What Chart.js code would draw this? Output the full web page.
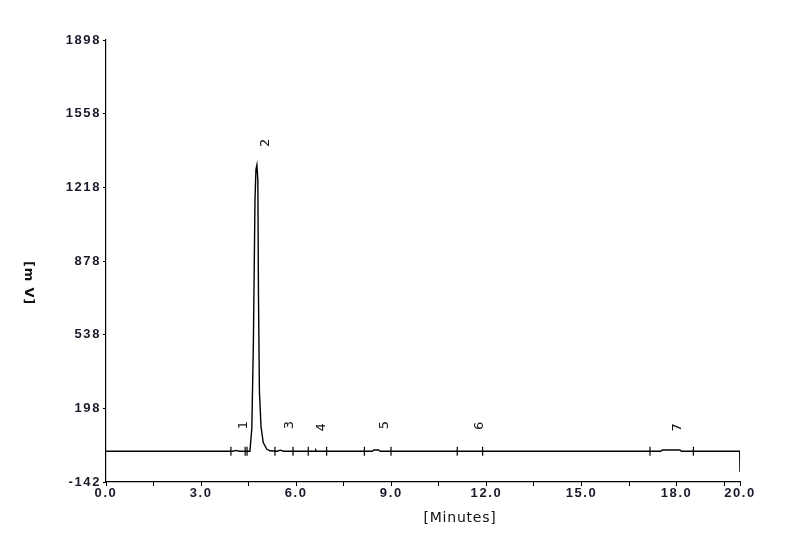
<!DOCTYPE html>
<html>
<head>
<meta charset="utf-8">
<script src="https://cdn.jsdelivr.net/npm/chart.js@4.4.1/dist/chart.umd.min.js"></script>
<style>
  html, body { margin: 0; padding: 0; background: #fff; }
  #wrap { width: 800px; height: 541px; }
</style>
</head>
<body>
<div id="wrap"><canvas id="chart"></canvas></div>
<script>
// chromatogram trace (minutes, mV)
const traceTime = [0, 4.0, 4.1, 4.2, 4.54, 4.6, 4.65, 4.70, 4.73, 4.76, 4.79, 4.81, 4.84, 4.89, 4.96, 5.07, 5.17,
  5.4, 5.5, 5.6, 6.6, 6.62, 6.64, 8.4, 8.45, 8.6, 8.65, 17.5, 17.55, 18.1, 18.15, 19.99, 20.0];
const traceSignal = [0, 0, 4, 0, 0, 106, 506, 1159, 1300, 1321, 1252, 713, 275, 113, 40, 10, 2,
  0, 5, 0, 0, 5, 0, 0, 6, 6, 0, 0, 6, 6, 0, 0, -96];

// integration marks on the baseline
const markTimes = [3.94, 4.39, 4.45, 5.33, 5.90, 6.38, 6.96, 8.15, 8.99, 11.08, 11.88, 17.16, 18.53];
const markHalf = 21;

// peak numbers and where they sit
const peakNames = ['1', '2', '3', '4', '5', '6', '7'];
const peakLabelTime = [4.35, 5.02, 5.80, 6.81, 8.80, 11.80, 18.04];
const peakLabelValue = [121, 1423, 121, 110, 121, 117, 110];

const xTicks = [0, 1.5, 3, 4.5, 6, 7.5, 9, 10.5, 12, 13.5, 15, 16.5, 18, 19.5, 20];
const xLabelled = [0, 3, 6, 9, 12, 15, 18, 20];
const yTicks = [-142, 198, 538, 878, 1218, 1558, 1898];

const tracePoints = traceTime.map((t, i) => ({ x: t, y: traceSignal[i] }));
const markPoints = [];
markTimes.forEach(t => {
  markPoints.push({ x: t, y: -markHalf }, { x: t, y: markHalf }, { x: t, y: null });
});

const spacing = {
  id: 'spacing',
  beforeLayout(chart) { chart.ctx.letterSpacing = '1.6px'; },
  beforeDraw(chart) { chart.ctx.letterSpacing = '1.6px'; }
};

const labels = {
  id: 'labels',
  afterDatasetsDraw(chart) {
    const { ctx, scales: { x, y } } = chart;
    ctx.save();
    ctx.fillStyle = '#111';
    ctx.textAlign = 'center';
    ctx.textBaseline = 'middle';
    ctx.letterSpacing = '0px';
    ctx.font = '13px "DejaVu Sans"';
    peakNames.forEach((name, i) => {
      ctx.save();
      ctx.translate(x.getPixelForValue(peakLabelTime[i]), y.getPixelForValue(peakLabelValue[i]));
      ctx.rotate(-Math.PI / 2);
      ctx.fillText(name, 0, 0);
      ctx.restore();
    });

    // axis titles
    ctx.letterSpacing = '0.8px';
    ctx.font = '14px "DejaVu Sans"';
    ctx.fillText('[Minutes]', 460, 518);
    ctx.font = 'bold 13px "DejaVu Sans"';
    ctx.translate(28, 283);
    ctx.rotate(Math.PI / 2);
    ctx.fillText('[m V]', 0, 0);
    ctx.restore();
  }
};

const tickFont = { family: '"Liberation Sans", Arial', size: 13, weight: 'bold' };

new Chart(document.getElementById('chart'), {
  type: 'line',
  data: {
    datasets: [
      {
        data: tracePoints,
        borderColor: '#000',
        borderWidth: 1.4,
        pointRadius: 0,
        tension: 0
      },
      {
        data: markPoints,
        borderColor: '#000',
        borderWidth: 1.2,
        pointRadius: 0,
        spanGaps: false
      }
    ]
  },
  options: {
    responsive: true,
    maintainAspectRatio: false,
    animation: false,
    layout: { padding: { left: 0, right: 60, top: 40, bottom: 0 } },
    plugins: {
      legend: { display: false },
      tooltip: { enabled: false }
    },
    scales: {
      x: {
        type: 'linear',
        min: 0,
        max: 20,
        afterBuildTicks: (s) => { s.ticks = xTicks.map(v => ({ value: v })); },
        afterFit: (s) => { s.height = 59; },
        border: { display: true, color: '#000', width: 1.2 },
        grid: { drawOnChartArea: false, drawTicks: true, tickLength: 4, color: '#000' },
        ticks: {
          autoSkip: false,
          maxRotation: 0,
          padding: 0,
          color: '#1a1a2a',
          font: tickFont,
          callback: (v) => xLabelled.includes(v) ? v.toFixed(1) : ''
        }
      },
      y: {
        type: 'linear',
        min: -142,
        max: 1898,
        afterBuildTicks: (s) => { s.ticks = yTicks.map(v => ({ value: v })); },
        afterFit: (s) => { s.width = 106; },
        border: { display: true, color: '#000', width: 1.2 },
        grid: { drawOnChartArea: false, drawTicks: true, tickLength: 3, color: '#000' },
        ticks: {
          padding: 2,
          color: '#1a1a2a',
          font: tickFont,
          callback: (v) => String(v)
        }
      }
    }
  },
  plugins: [spacing, labels]
});
</script>
</body>
</html>
